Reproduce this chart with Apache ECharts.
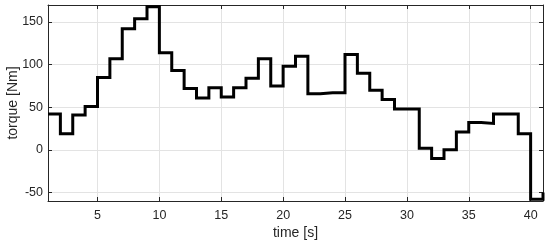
<!DOCTYPE html>
<html>
<head>
<meta charset="utf-8">
<script src="https://cdn.jsdelivr.net/npm/echarts@6/dist/echarts.min.js"></script>
<style>
  html, body { margin: 0; padding: 0; background: #fff; }
  #chart { width: 550px; height: 246px; }
</style>
</head>
<body>
<div id="chart"></div>
<script>
// time steps (s) and torque held over each step (Nm)
const times = [1, 2, 3, 4, 5, 6, 7, 8, 9, 10, 11, 12, 13, 14, 15, 16, 17, 18, 19, 20,
  21, 22, 23, 24, 25, 26, 27, 28, 29, 30, 31, 32, 33, 34, 35, 36, 37, 38, 39, 40, 41]
const torque = [42, 19, 41, 51, 85, 107, 142, 154, 168, 114, 93, 72, 61, 73, 62, 73, 84, 107, 75, 98,
  110, 66, 67, 67, 112, 90, 70, 59, 48, 48, 2, -10, 0, 21, 32, 31, 42, 42, 19, -58, -50]
const xRange = [1, 41]
const yRange = [-60, 170]

const axisColor = '#262626'
const gridColor = '#e3e3e3'
const font = 'Liberation Sans, Arial, sans-serif'

const chart = echarts.init(document.getElementById('chart'))
chart.setOption({
  animation: false,
  backgroundColor: '#fff',
  grid: { left: 48, right: 7, top: 5, bottom: 45, containLabel: false, outerBoundsMode: 'none' },
  xAxis: [
    {
      type: 'value',
      min: xRange[0],
      max: xRange[1],
      splitNumber: 8,
      name: 'time [s]',
      nameLocation: 'middle',
      nameGap: 25,
      nameMoveOverlap: false,
      nameTextStyle: { color: axisColor, fontFamily: font, fontSize: 14 },
      axisLine: { onZero: false, lineStyle: { color: axisColor, width: 1 } },
      axisTick: { inside: true, length: 4, lineStyle: { color: axisColor } },
      axisLabel: { color: axisColor, fontFamily: font, fontSize: 12.5, margin: 8, showMinLabel: false, showMaxLabel: false },
      splitLine: { show: true, lineStyle: { color: gridColor, width: 1 } },
    },
    {
      type: 'value',
      position: 'top',
      min: xRange[0],
      max: xRange[1],
      splitNumber: 8,
      axisLine: { onZero: false, lineStyle: { color: axisColor, width: 1 } },
      axisTick: { inside: true, length: 4, lineStyle: { color: axisColor } },
      axisLabel: { show: false },
      splitLine: { show: false },
    },
  ],
  yAxis: [
    {
      type: 'value',
      min: yRange[0],
      max: yRange[1],
      splitNumber: 5,
      name: 'torque [Nm]',
      nameLocation: 'middle',
      nameGap: 28,
      nameMoveOverlap: false,
      nameTextStyle: { color: axisColor, fontFamily: font, fontSize: 14 },
      axisLine: { show: true, onZero: false, lineStyle: { color: axisColor, width: 1 } },
      axisTick: { show: true, inside: true, length: 4, lineStyle: { color: axisColor } },
      axisLabel: { color: axisColor, fontFamily: font, fontSize: 12.5, margin: 5, showMinLabel: false, showMaxLabel: false },
      splitLine: { show: true, lineStyle: { color: gridColor, width: 1 } },
    },
    {
      type: 'value',
      position: 'right',
      min: yRange[0],
      max: yRange[1],
      splitNumber: 5,
      axisLine: { show: true, onZero: false, lineStyle: { color: axisColor, width: 1 } },
      axisTick: { show: true, inside: true, length: 4, lineStyle: { color: axisColor } },
      axisLabel: { show: false },
      splitLine: { show: false },
    },
  ],
  series: [
    {
      type: 'line',
      step: 'end',
      xAxisIndex: 0,
      yAxisIndex: 0,
      data: times.map((t, i) => [t, torque[i]]),
      symbol: 'none',
      clip: true,
      lineStyle: { color: '#000', width: 3, join: 'miter' },
    },
  ],
})
</script>
</body>
</html>
